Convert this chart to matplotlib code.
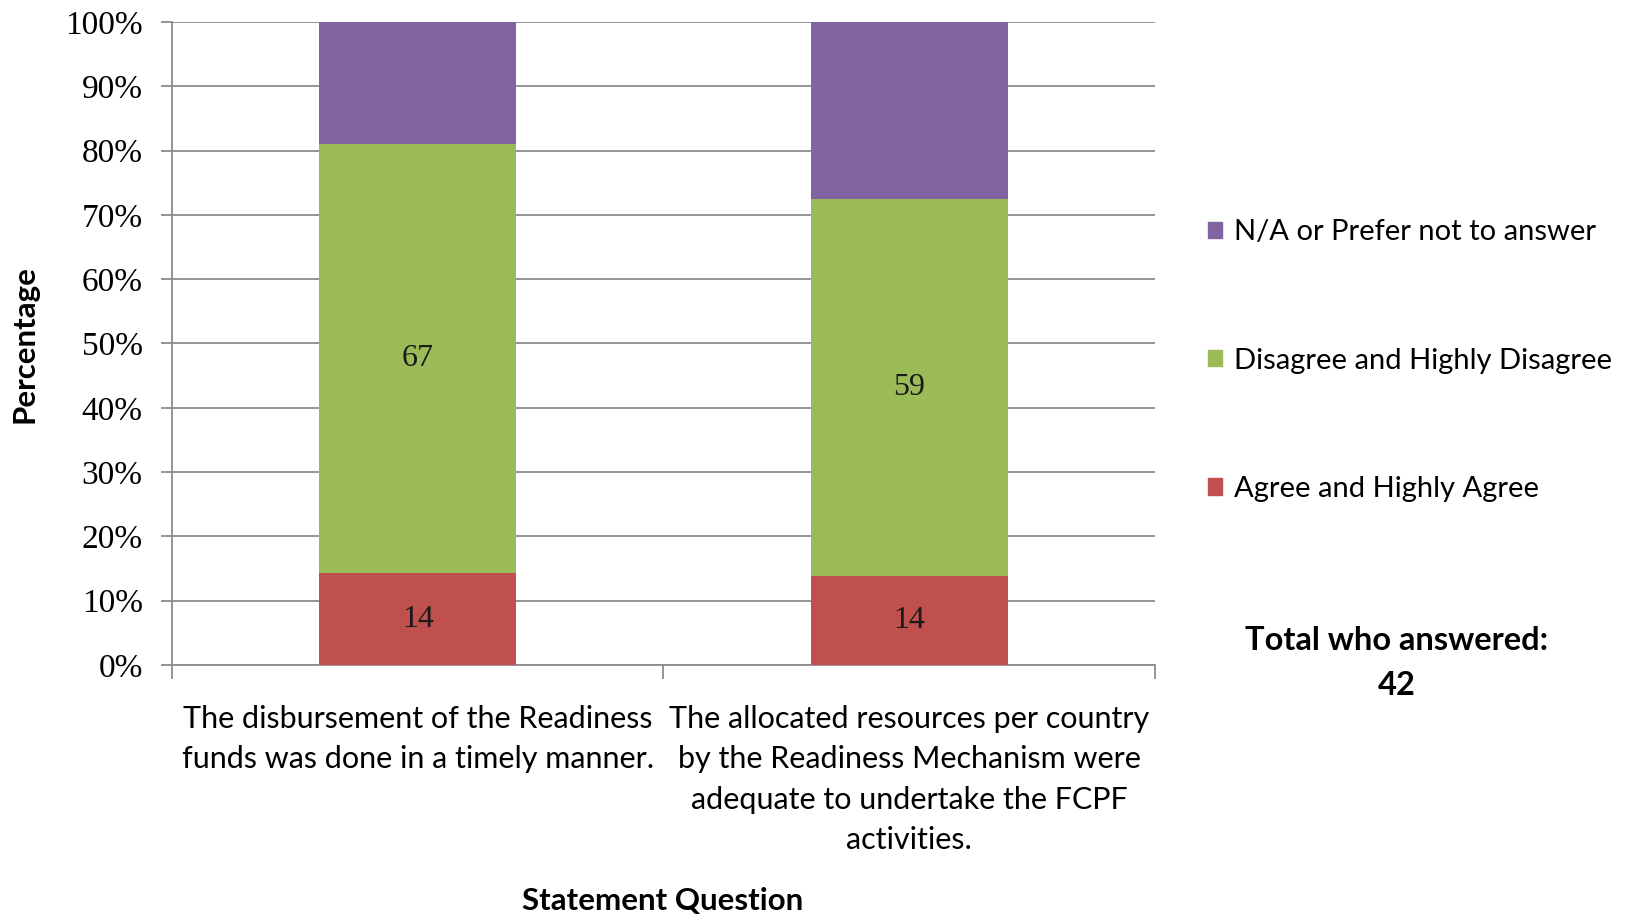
import numpy as np
import matplotlib.pyplot as plt
from matplotlib.patches import Patch

categories = ["The disbursement of the Readiness\nfunds was done in a timely manner.",
              "The allocated resources per country\nby the Readiness Mechanism were\nadequate to undertake the FCPF\nactivities."]
agree = [14.3, 13.9]
disagree = [66.7, 58.6]
na = [19.0, 27.5]
series_names = ["Agree and Highly Agree", "Disagree and Highly Disagree", "N/A or Prefer not to answer"]
total_answered = 42

c_red = '#C0504D'
c_green = '#9BBB59'
c_purple = '#8064A2'
grid_c = '#8C8C8C'

sans = ['Lato', 'DejaVu Sans']
narrow = ['Liberation Sans Narrow', 'Lato', 'DejaVu Sans']
serif = ['Liberation Serif', 'DejaVu Serif']

fig = plt.figure(figsize=(16.33, 9.15), dpi=100)
ax = fig.add_axes([0.1053, 0.2732, 0.602, 0.7028])

x = np.arange(len(categories))
w = 0.4
b1 = ax.bar(x, agree, w, color=c_red, zorder=3)
b2 = ax.bar(x, disagree, w, bottom=agree, color=c_green, zorder=3)
b3 = ax.bar(x, na, w, bottom=np.add(agree, disagree), color=c_purple, zorder=3)

ax.bar_label(b1, labels=[f"{v:.0f}" for v in agree], label_type='center',
             fontsize=23, family=serif, color='#1a1a1a')
ax.bar_label(b2, labels=[f"{v:.0f}" for v in disagree], label_type='center',
             fontsize=23, family=serif, color='#1a1a1a')

ax.set_xlim(-0.5, 1.5)
ax.set_ylim(0, 100)
ax.set_yticks(np.arange(0, 101, 10))
ax.set_yticklabels([f"{v}%" for v in range(0, 101, 10)], family=serif, fontsize=24)
ax.yaxis.grid(True, color=grid_c, linewidth=1.3, zorder=0)
ax.tick_params(axis='y', length=8, color=grid_c, width=1.3, pad=13)

ax.set_xticks(x)
ax.set_xticklabels(categories, family=narrow, fontsize=22, linespacing=1.53, va='top')
ax.set_xticks([-0.5, 0.5, 1.5], minor=True)
ax.tick_params(axis='x', which='major', length=0, pad=29)
ax.tick_params(axis='x', which='minor', length=10, color=grid_c, width=1.3)

for s in ['top', 'right']:
    ax.spines[s].set_visible(False)
for s in ['left', 'bottom']:
    ax.spines[s].set_color(grid_c)
    ax.spines[s].set_linewidth(1.3)

fig.text(0.015, 0.624, "Percentage", rotation=90, ha='center', va='center',
         fontsize=22.5, fontweight='bold', family=sans)
fig.text(0.4055, 0.015, "Statement Question", ha='center', va='center',
         fontsize=22.5, fontweight='bold', family=sans)

handles = [Patch(color=c_purple), Patch(color=c_green), Patch(color=c_red)]
labels = [series_names[2], series_names[1], series_names[0]]
leg = fig.legend(handles, labels, loc='center left', bbox_to_anchor=(0.7235, 0.606),
                 frameon=False, prop={'family': sans, 'size': 21},
                 handlelength=0.5, handleheight=0.5, handletextpad=0.4,
                 labelspacing=3.5)

fig.text(0.8555, 0.2755, "Total who answered:\n" + str(total_answered), ha='center', va='center',
         fontsize=23.5, fontweight='bold', family=sans, linespacing=1.7)

fig.savefig('out.png', dpi=100)
